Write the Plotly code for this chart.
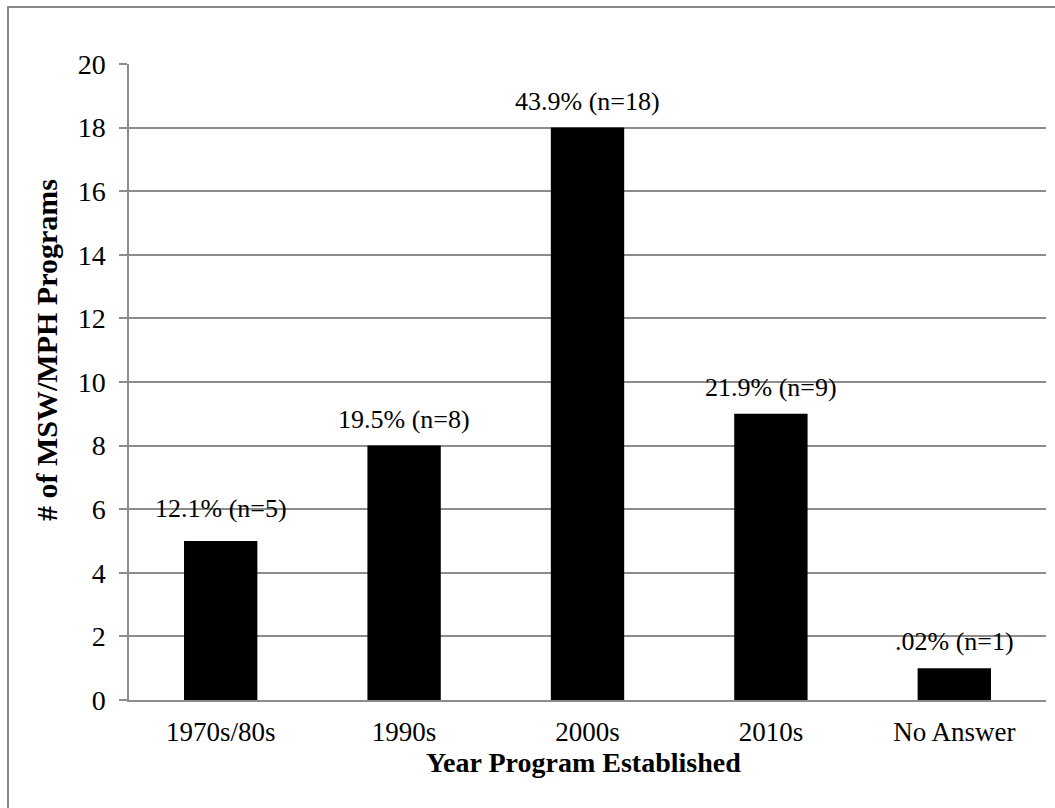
import plotly.graph_objects as go

categories = ["1970s/80s", "1990s", "2000s", "2010s", "No Answer"]
counts = [5, 8, 18, 9, 1]
bar_labels = ["12.1% (n=5)", "19.5% (n=8)", "43.9% (n=18)", "21.9% (n=9)", ".02% (n=1)"]
y_ticks = [0, 2, 4, 6, 8, 10, 12, 14, 16, 18, 20]
x_title = "Year Program Established"
y_title = "# of MSW/MPH Programs"

W, H = 1055, 808
L, R, T, B = 129, 9, 64, 108
pw, ph = W - L - R, H - T - B

FONT = "Liberation Serif, Times New Roman, serif"
GRID = "#8c8c8c"

# extra pixel lift of individual data labels (first label sits a bit higher in the original)
label_lift = [16, 10, 10, 10, 10]

fig = go.Figure()
fig.add_trace(go.Bar(
    x=categories, y=counts,
    marker=dict(color="black", line=dict(width=0)),
    width=0.4,
    hoverinfo="skip",
))

for c, v, t, s in zip(categories, counts, bar_labels, label_lift):
    fig.add_annotation(
        x=c, y=v, text=t, showarrow=False,
        xref="x", yref="y", yanchor="bottom", yshift=s,
        font=dict(family=FONT, size=26, color="black"),
    )

def px_to_paper_x(px):
    return (px - L) / pw

def px_to_paper_y(py):
    return (H - B - py) / ph

fig.add_shape(
    type="rect", xref="paper", yref="paper",
    x0=px_to_paper_x(8), x1=px_to_paper_x(1070),
    y0=px_to_paper_y(830), y1=px_to_paper_y(7),
    line=dict(color="#888888", width=2), fillcolor="rgba(0,0,0,0)",
    layer="below",
)

fig.add_annotation(
    text="<b>" + y_title + "</b>", showarrow=False, textangle=-90,
    xref="paper", yref="paper",
    x=px_to_paper_x(46), y=px_to_paper_y(350),
    xanchor="center", yanchor="middle",
    font=dict(family=FONT, size=30, color="black"),
)
fig.add_annotation(
    text="<b>" + x_title + "</b>", showarrow=False,
    xref="paper", yref="paper",
    x=px_to_paper_x(583), y=px_to_paper_y(762),
    xanchor="center", yanchor="middle",
    font=dict(family=FONT, size=28, color="black"),
)

fig.update_layout(
    width=W, height=H,
    margin=dict(l=L, r=R, t=T, b=B, pad=0),
    paper_bgcolor="white", plot_bgcolor="white",
    showlegend=False,
    font=dict(family=FONT, color="black"),
    bargap=0.6,
)

fig.update_yaxes(
    range=[0, 20], tickvals=y_ticks, ticktext=[str(v) for v in y_ticks],
    showgrid=True, gridcolor=GRID, gridwidth=1.5,
    showline=True, linecolor=GRID, linewidth=1.5,
    ticks="outside", ticklen=8, tickcolor=GRID, tickwidth=1.5,
    tickfont=dict(family=FONT, size=28, color="black"),
    ticklabelstandoff=8,
    zeroline=False,
)
fig.update_xaxes(
    showgrid=False, showline=True, linecolor=GRID, linewidth=1.5,
    ticks="", tickfont=dict(family=FONT, size=27, color="black"),
    ticklabelstandoff=7,
)

fig.write_html("out.html")
